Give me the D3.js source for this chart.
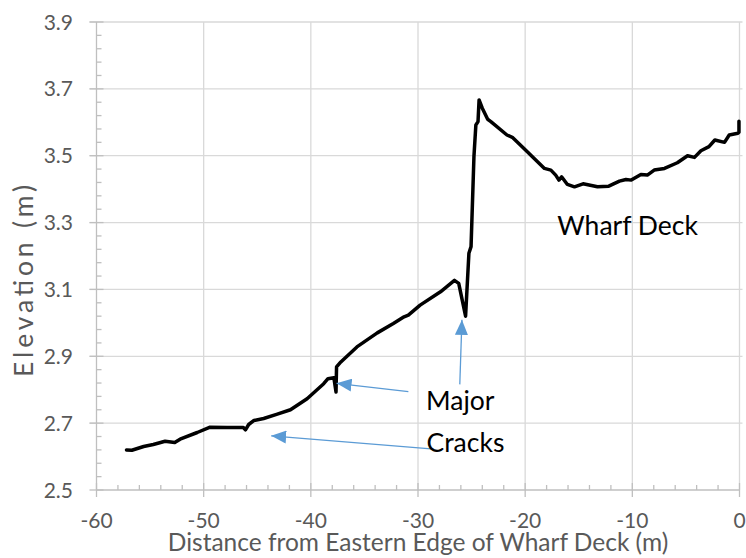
<!DOCTYPE html>
<html>
<head>
<meta charset="utf-8">
<script src="https://cdn.jsdelivr.net/npm/d3@7"></script>
<style>
  html, body { margin: 0; padding: 0; background: #fff; }
  svg { display: block; }
  text { font-family: Lato, "Open Sans", sans-serif; }
</style>
</head>
<body>
<svg id="chart" width="746" height="558"></svg>
<script>
// ---- data ----
const distance = [-57.2, -56.7, -55.6, -54.7, -53.6, -52.7, -52.2, -50.6, -49.4, -47.8, -46.3, -46.1, -45.8, -45.3,
  -44.4, -43.2, -41.9, -41.3, -40.35, -38.8, -38.4, -37.85, -37.65, -37.6, -37.2, -35.7, -33.8, -32.3, -31.3, -30.9,
  -29.8, -27.9, -26.6, -26.2, -25.56, -25.25, -25.05, -24.78, -24.6, -24.4, -24.3, -24.0, -23.5, -23.2, -21.7, -21.2,
  -19.8, -18.2, -17.6, -17.15, -16.85, -16.6, -16.06, -15.4, -14.6, -13.25, -12.2, -11.2, -10.6, -10.1, -9.2, -8.6,
  -7.96, -7.0, -5.8, -4.85, -4.2, -3.6, -2.85, -2.3, -1.4, -0.96, -0.15, -0.05, -0.05];
const elevation = [2.620, 2.619, 2.630, 2.636, 2.646, 2.642, 2.652, 2.672, 2.688, 2.687, 2.687, 2.680, 2.696, 2.708,
  2.714, 2.726, 2.740, 2.753, 2.773, 2.818, 2.833, 2.836, 2.793, 2.868, 2.883, 2.928, 2.970, 2.998, 3.018, 3.023,
  3.053, 3.093, 3.127, 3.118, 3.020, 3.208, 3.228, 3.497, 3.592, 3.602, 3.667, 3.642, 3.609, 3.602, 3.562, 3.555,
  3.512, 3.462, 3.457, 3.442, 3.427, 3.437, 3.414, 3.407, 3.416, 3.407, 3.409, 3.424, 3.429, 3.427, 3.444, 3.442,
  3.457, 3.462, 3.479, 3.500, 3.495, 3.515, 3.527, 3.547, 3.540, 3.562, 3.567, 3.570, 3.603];
const xTicks = [-60, -50, -40, -30, -20, -10, 0];
const yTicks = [2.5, 2.7, 2.9, 3.1, 3.3, 3.5, 3.7, 3.9];
const xMinorTicks = d3.range(-58, 0, 2).filter(v => v % 10 !== 0);
const yMinorTicks = d3.range(0, 35).map(i => +(2.5 + i * 0.04).toFixed(2)).filter(v => Math.abs(((v - 2.5) / 0.2) - Math.round((v - 2.5) / 0.2)) > 1e-6);
const xTitle = "Distance from Eastern Edge of Wharf Deck (m)";
const yTitle = "Elevation (m)";
// annotations: label and anchor in data units
const labels = [
  { text: "Wharf Deck", x: -17.0, y: 3.262 },
  { text: "Major", x: -29.25, y: 2.739 },
  { text: "Cracks", x: -29.2, y: 2.614 }
];
// arrows: from -> to in data units
const arrows = [
  { x1: -30.9, y1: 2.794, x2: -37.6, y2: 2.819 },
  { x1: -28.5, y1: 2.622, x2: -43.7, y2: 2.662 },
  { x1: -26.1, y1: 2.816, x2: -25.9, y2: 3.009 }
];

// ---- chart ----
const svg = d3.select("#chart");
const pLeft = 96.5, pRight = 739.5, pTop = 22, pBottom = 490;
const x = d3.scaleLinear().domain([-60, 0]).range([pLeft, pRight]);
const y = d3.scaleLinear().domain([2.5, 3.9]).range([pBottom, pTop]);

const gridColor = "#d9d9d9", axisColor = "#bfbfbf", textColor = "#595959";

// gridlines
svg.append("g").selectAll("line").data(yTicks.filter(v => v > 2.5)).join("line")
  .attr("x1", pLeft - 7).attr("x2", pRight + 3)
  .attr("y1", d => y(d)).attr("y2", d => y(d))
  .attr("stroke", gridColor).attr("stroke-width", 1.3);
svg.append("g").selectAll("line").data(xTicks.filter(v => v > -60)).join("line")
  .attr("x1", d => x(d)).attr("x2", d => x(d))
  .attr("y1", pTop).attr("y2", pBottom)
  .attr("stroke", gridColor).attr("stroke-width", 1.3);

// y axis
const yAxis = svg.append("g").attr("transform", `translate(${pLeft},0)`);
yAxis.append("line").attr("x1", 0).attr("x2", 0).attr("y1", pTop).attr("y2", pBottom)
  .attr("stroke", axisColor).attr("stroke-width", 1.3);
yAxis.append("g").selectAll("line").data(yTicks).join("line")
  .attr("x1", -7).attr("x2", 7).attr("y1", d => y(d)).attr("y2", d => y(d))
  .attr("stroke", axisColor).attr("stroke-width", 1.3);
yAxis.append("g").selectAll("line").data(yMinorTicks).join("line")
  .attr("x1", 0).attr("x2", 5).attr("y1", d => y(d)).attr("y2", d => y(d))
  .attr("stroke", axisColor).attr("stroke-width", 1.3);
yAxis.append("g").selectAll("text").data(yTicks).join("text")
  .attr("x", -23.5).attr("y", d => y(d)).attr("dy", "0.36em")
  .attr("text-anchor", "end").attr("fill", textColor).attr("font-size", 21)
  .text(d => d.toFixed(1));

// x axis
const xAxis = svg.append("g").attr("transform", `translate(0,${pBottom})`);
xAxis.append("line").attr("x1", pLeft).attr("x2", pRight).attr("y1", 0).attr("y2", 0)
  .attr("stroke", axisColor).attr("stroke-width", 1.3);
xAxis.append("g").selectAll("line").data(xTicks).join("line")
  .attr("x1", d => x(d)).attr("x2", d => x(d)).attr("y1", -7).attr("y2", 7)
  .attr("stroke", axisColor).attr("stroke-width", 1.3);
xAxis.append("g").selectAll("line").data(xMinorTicks).join("line")
  .attr("x1", d => x(d)).attr("x2", d => x(d)).attr("y1", -5).attr("y2", 0)
  .attr("stroke", axisColor).attr("stroke-width", 1.3);
xAxis.append("g").selectAll("text").data(xTicks).join("text")
  .attr("x", d => x(d)).attr("y", 38)
  .attr("text-anchor", "middle").attr("fill", textColor).attr("font-size", 21)
  .text(d => d);

// axis titles
svg.append("text").attr("x", (pLeft + pRight) / 2).attr("y", 551)
  .attr("text-anchor", "middle").attr("fill", textColor).attr("font-size", 24.5)
  .text(xTitle);
svg.append("text").attr("transform", "translate(33,281) rotate(-90)")
  .attr("text-anchor", "middle").attr("fill", textColor).attr("font-size", 26.5)
  .attr("textLength", 192).attr("lengthAdjust", "spacing")
  .text(yTitle);

// data line
const line = d3.line().x((d, i) => x(distance[i])).y((d, i) => y(elevation[i]));
svg.append("path").datum(distance).attr("d", line)
  .attr("fill", "none").attr("stroke", "#000").attr("stroke-width", 3.5)
  .attr("stroke-linejoin", "round").attr("stroke-linecap", "round");

// arrows
const defs = svg.append("defs");
defs.append("marker").attr("id", "ah").attr("viewBox", "0 0 15 13")
  .attr("refX", 15).attr("refY", 6.5).attr("markerWidth", 15).attr("markerHeight", 13)
  .attr("markerUnits", "userSpaceOnUse").attr("orient", "auto")
  .append("path").attr("d", "M0,0 L15,6.5 L0,13 Z").attr("fill", "#5b9bd5");
svg.append("g").selectAll("line").data(arrows).join("line")
  .attr("x1", d => x(d.x1)).attr("y1", d => y(d.y1))
  .attr("x2", d => x(d.x2)).attr("y2", d => y(d.y2))
  .attr("stroke", "#5b9bd5").attr("stroke-width", 1.3)
  .attr("marker-end", "url(#ah)");

// labels
svg.append("g").selectAll("text").data(labels).join("text")
  .attr("x", d => x(d.x)).attr("y", d => y(d.y))
  .attr("fill", "#000").attr("font-size", 26.5)
  .text(d => d.text);
</script>
</body>
</html>
